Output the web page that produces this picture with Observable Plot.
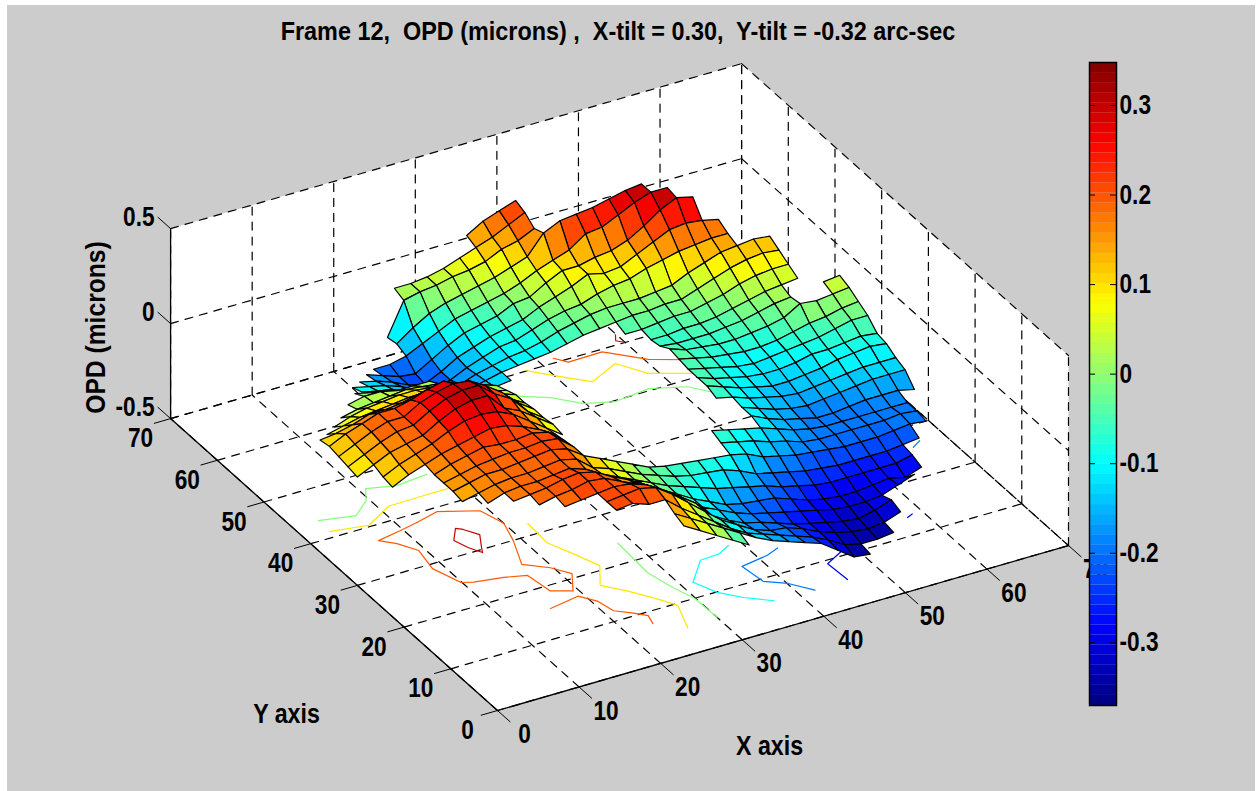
<!DOCTYPE html>
<html><head><meta charset="utf-8">
<script src="https://cdn.jsdelivr.net/npm/d3@7"></script>
<script src="https://cdn.jsdelivr.net/npm/@observablehq/plot@0.6"></script>
<style>
html,body{margin:0;padding:0;background:#fff;width:1258px;height:791px;overflow:hidden}
#bg{position:absolute;left:7px;top:5px;width:1248px;height:786px;background:#cccccc}
#main,#bar{position:absolute;left:0;top:0}
svg{background:none!important;white-space:pre}
</style></head><body>
<div id="bg"></div><div id="main"></div><div id="bar"></div>
<script>
const titleText = "Frame 12,  OPD (microns) ,  X-tilt = 0.30,  Y-tilt = -0.32 arc-sec";
const xLabel = "X axis", yLabel = "Y axis", zLabel = "OPD (microns)";
const xyTicks = [0,10,20,30,40,50,60,70];
const zTicks = [-0.5,0,0.5];
const barTicks = [0.3,0.2,0.1,0,-0.1,-0.2,-0.3];
const barDomain = [-0.37,0.348];
const _ = null, gap = n => Array(n).fill(null);

// surface heights in hundredths of a micron, one list per Y row; first X given by rowStart, step 2
const rowY =     [66,64,62,60,58,56,54,52,50,48,46,44,42,40,38,36,34,32,30,28,26,24,22,20,18,16,14,12,10,8,6,4,2];
const rowStart = [34,24,22,22,18,16,14,12,12,10, 8, 6, 4, 2, 0, 0, 0, 0, 0, 2, 2, 6, 6, 6, 6, 8,10,12,14,18,18,24,24];
const rowValues = [
[13,18,21,24],
[2,2,3,5,8,11,14,18,22],
[-17,0,2,3,5,6,8,12,14,18],
[-16,-10,-5,-2,0,2,4,7,10,20,24,25,26,28,30,31],
[-20,-20,-18,-14,-10,-6,-4,-2,0,3,7,10,13,19,20,24,28,31,31],
[-16,-19,-22,-23,-18,-13,-9,-7,-5,-1,0,5,9,9,11,12,15,20,26,30,28],
[-13,-15,-18,-22,-24,-20,-15,-12,-9,-7,-5,-1,2,5,9,7,8,12,16,20,21,20,18],
[-9,-11,-13,-16,-21,-23,-20,-16,-13,-10,-9,-6,-3,-1,0,3,5,6,9,11,13,14,15,15],
[-7,-9,-11,-14,-18,-20,-18,-15,-13,-11,-10,-8,-5,-3,-1,0,0,0,1,2,6,9,12,13,14,13],
[-1,-3,-4,-7,-10,-15,-17,-16,-14,-12,-11,-10,-9,-7,-5,-4,-3,-2,-2,-1,-1,2,5,8,10,11,10],
[0,2,2,0,0,0,-8,-12,-13,-13,-12,...gap(6),-5,-5,-4,-3,-3,-1,1,4,6,7,7],
[0,2,3,4,5,4,3,1,-3,-6,...gap(9),-6,-6,-5,-5,-4,-2,0,2,3,4],
[2,5,7,8,9,9,8,6,4,2,-1,...gap(9),-5,-6,-6,-6,-5,-4,-2,0,1,_,4,5],
[5,7,9,10,11,12,12,11,8,5,3,1,...gap(9),-2,-5,-6,-7,-7,-6,-5,-3,2,1,2,3],
[9,10,12,15,15,16,18,18,15,12,9,6,3,...gap(9),-3,-5,-7,-8,-9,-9,-8,-6,-4,-3,-1,0],
[10,14,17,20,20,22,25,27,23,17,14,8,3,...gap(9),-4,-6,-8,-10,-11,-10,-9,-8,-7,-5,-3,-3],
[9,13,17,20,20,25,28,30,29,24,18,10,4,...gap(9),-4,-7,-9,-11,-12,-12,-11,-9,-9,-8,-7,-8],
[8,12,16,19,20,25,29,31,31,24,19,10,4,...gap(9),-4,-7,-10,-12,-14,-14,-13,-12,-10,-9,-8,-9],
[7,11,15,17,19,24,28,30,30,21,17,11,5,...gap(9),-6,-8,-11,-13,-15,-16,-15,-14,-13,-12,-12,-12],
[9,13,16,19,23,26,27,26,22,16,10,4,...gap(10),-9,-12,-15,-17,-18,-17,-16,-15,-14,-14,-14],
[8,12,15,18,20,22,24,23,20,16,11,...gap(11),-9,-13,-16,-18,-20,-20,-19,-18,-18,-18,-20],
[14,17,19,21,20,20,21,19,12,...gap(8),-5,-7,-9,-11,-14,-17,-19,-20,-20,-20,-20,-20,-20],
[14,16,18,19,20,20,21,20,13,...gap(8),-7,-9,-11,-14,-16,-19,-20,-20,-20,-20,-20,-19,-20],
[14,16,18,18,19,20,21,19,13,9,5,1,-3,-5,-6,-7,-8,-9,-11,-15,-17,-19,-20,-21,-22,-22,-22,-21,-20,-21],
[13,15,17,18,18,19,20,18,11,8,4,0,-3,-6,-8,-9,-10,-13,-17,-19,-21,-23,-24,-25,-25,-25,-25,-24,-23],
[14,17,18,18,19,20,17,12,8,4,0,-4,-7,-10,-13,-15,-17,-19,-22,-24,-26,-27,-27,-27,-27,-27,-25],
[17,18,19,21,22,20,15,11,6,1,-4,-9,-13,-17,-19,-20,-21,-24,-27,-29,-30,-30,-29,-28,-30,-27],
[17,19,20,22,21,17,13,9,3,-3,-9,-13,-17,-20,-22,-24,-26,-28,-30,-31,-31,-30,-27,-24],
[18,19,20,21,20,17,12,6,0,-9,-14,-18,-20,-23,-26,-28,-30,-32,-33,-31,-28],
[20,21,22,20,14,7,0,-7,-12,-17,-20,-21,-24,-28,-31,-33,-34,-33,-30],
[20,21,18,18,11,5,-1,-7,-12,-15,-18,-21,-24,-28,-33,-35,-35,-34],
[15,10,5,0,-5,-10,-14,-17,-20,-23,-29,-35,-36],
[13,8,3,-2,-7]
];

// floor contours: level and [X,Y] vertices
const contourLevels = [0.3,0.2,0.2,0.1,0.1,0,0,-0.1,-0.2,-0.3,-0.3,-0.2,-0.2,-0.1,0.3,0.3,0.2,0.1,0];
const contourPaths = [
[[15,35.2],[15.6,34.6],[16.6,32.8],[15.4,30.3],[15,29.4],[14.2,31],[13.6,33.1],[15,35.2]],
[[6.6,37],[9.7,37.7],[12.1,38.3],[15,39.2],[19.1,37.1],[20,33.6],[19.1,30],[17.4,25.2],[19.7,23.1],[21.1,20.9],[19.4,17.7],[17.3,18.9],[16.8,22.9],[14.4,23.8],[11.1,24.5],[9.9,25.1],[8.7,29.1],[9.3,33.1],[8,35.5],[6.6,37]],
[[15.5,15.7],[19.3,16.5],[20.6,14.6],[21.1,12],[22.7,10.5],[23.8,9.3],[23.4,7.6]],
[[3,41.2],[7.3,40.3],[11.1,42.7],[15.9,42.8],[18.4,42.8]],
[[22.2,32.3],[22,27.8],[23.3,24.4],[24.5,20.9],[22.5,17.3],[24.4,14.9],[26.1,12.3],[27.6,9.6],[26.2,5]],
[[3.1,43.8],[7.1,42.7],[9.6,44.9],[10.8,47.1],[14,46],[18,46.5]],
[[28.5,24],[28.2,17.1],[29,13.1],[29.9,9.9],[30,5.4]],
[[38.5,17.8],[36.8,16.8],[34.4,16.6],[31.4,13],[32.6,9.9],[34.5,7.6],[37,5.4]],
[[42.8,14.8],[41.1,14],[37.6,13.3],[38,9.5],[40.1,7.8],[41.9,5.2]],
[[49.3,11.4],[45.8,9.3],[46,5.4]],
[[58,13.5],[58.8,13.9]],
[[62,22.5],[61.1,20.1]],
[[65.8,25.9],[67.1,26.8]],
[[66.7,31.8],[67.2,31.7]],
[[49.9,61.9],[49.3,60.8],[49.9,60.1]],
[[53.5,57],[53.8,56.4]],
[[41.7,60.9],[42.7,59.4],[46.9,59.5],[50.4,55.7],[53.8,53.7]],
[[37.9,60.1],[41,56.6],[42.9,54.6],[46.9,56.7],[48.9,53.2],[53.5,50.6]],
[[33.9,58],[34.7,55.7],[37.4,53.9],[39.8,51.1],[42.9,49.8],[47.4,50.4],[51.2,48.7],[53.4,45.8]]
];

// MATLAB jet(64) over the colour bar
const jet = t => {const c=v=>Math.round(255*Math.max(0,Math.min(1,v)));
  return `rgb(${c(1.5-Math.abs(4*t-3))},${c(1.5-Math.abs(4*t-2))},${c(1.5-Math.abs(4*t-1))})`;};
const levels = d3.range(64);
const thresholds = levels.slice(1).map(i => barDomain[0]+(barDomain[1]-barDomain[0])*i/64);
const colorScale = {type:"threshold",domain:thresholds,range:levels.map(i=>jet((i+0.5)/64))};

// view: oblique projection of (X,Y,Z) to chart units
const U = (X,Y) => 8.157*X - 4.67*Y;
const V = (X,Y,Z) => 2.357*X + 4.17*Y + 190*(Z+0.5);
const P = (X,Y,Z,id,extra) => ({u:U(X,Y),v:V(X,Y,Z),id,...extra});

// nodes
const H = new Map();
rowY.forEach((y,r)=>rowValues[r].forEach((v,i)=>{ if(v!==null) H.set(`${rowStart[r]+2*i},${y}`,v/100); }));
const quads=[];
for(let X=0;X<=66;X+=2) for(let Y=0;Y<=66;Y+=2){
  const c=[[X,Y],[X+2,Y],[X+2,Y+2],[X,Y+2]];
  const z=c.map(([a,b])=>H.get(`${a},${b}`));
  if(z.every(v=>v!==undefined)) quads.push({X,Y,c,z,mean:d3.mean(z),d:2.357*(X+1)+4.17*(Y+1)});
}
quads.sort((a,b)=>d3.descending(a.d,b.d));
const surface=[];
quads.forEach((q,k)=>q.c.forEach(([a,b],j)=>surface.push(P(a,b,q.z[j],k,{level:q.mean}))));

// box
const L=70, zMin=-0.5, zMax=0.5;
const wallPts=[[0,0,zMin],[L,0,zMin],[L,0,zMax],[L,L,zMax],[0,L,zMax],[0,L,zMin]].map(([a,b,c])=>P(a,b,c,"w"));
const dashed=[], solid=[], ticks=[];
let id=0;
const seg=(arr,p,q)=>{id++;arr.push(P(...p,id),P(...q,id));};
xyTicks.forEach(k=>{
  seg(dashed,[k,0,zMin],[k,L,zMin]); seg(dashed,[0,k,zMin],[L,k,zMin]);
  seg(dashed,[k,L,zMin],[k,L,zMax]); seg(dashed,[L,k,zMin],[L,k,zMax]);
  seg(ticks,[k,0,zMin],[k,-2.7,zMin]); seg(ticks,[0,k,zMin],[-2,k,zMin]);
});
zTicks.forEach(z=>{
  seg(dashed,[0,L,z],[L,L,z]); seg(dashed,[L,L,z],[L,0,z]);
  seg(ticks,[0,L,z],[0,L+2.7,z]);
});
seg(solid,[0,0,zMin],[L,0,zMin]); seg(solid,[0,0,zMin],[0,L,zMin]); seg(solid,[0,L,zMin],[0,L,zMax]);

const contourPts=[];
contourPaths.forEach((p,i)=>p.forEach(([a,b])=>contourPts.push(P(a,b,zMin,i,{level:contourLevels[i]}))));

const font="'Liberation Sans',sans-serif";
const txt={fontFamily:font,fontWeight:"bold",fill:"#000"};
const xTickRows=xyTicks.map(k=>P(k,0,zMin,k,{label:String(k)}));
const yTickRows=xyTicks.map(k=>P(0,k,zMin,k,{label:String(k)}));
const zTickRows=zTicks.map(k=>P(0,L,k,k,{label:String(k)}));
const pos={x:"u",y:"v"};

const main=Plot.plot({
  width:1258,height:791,margin:0,
  x:{domain:[-497,761],range:[0,1258],axis:null},
  y:{domain:[-81,710],range:[791,0],axis:null},
  color:colorScale,
  marks:[
    Plot.line(wallPts,{...pos,z:"id",fill:"#fff",stroke:"none",curve:"linear-closed"}),
    Plot.line(dashed,{...pos,z:"id",stroke:"#000",strokeWidth:1.2,strokeDasharray:"8,7"}),
    Plot.line(solid,{...pos,z:"id",stroke:"#000",strokeWidth:1.3}),
    Plot.line(ticks,{...pos,z:"id",stroke:"#000",strokeWidth:1}),
    Plot.line(contourPts,{...pos,z:"id",stroke:"level",strokeWidth:1.2}),
    Plot.line(surface,{...pos,z:"id",fill:"level",stroke:"#000",strokeWidth:1.2,curve:"linear-closed"}),
    Plot.text(xTickRows,{...pos,text:"label",dx:27,dy:24,fontSize:27,...txt}),
    Plot.text(yTickRows,{...pos,text:"label",dx:-30,dy:20,fontSize:27,...txt}),
    Plot.text(zTickRows,{...pos,text:"label",dx:-16,dy:-11,textAnchor:"end",fontSize:27,...txt}),
    Plot.text([titleText],{x:()=>120.5,y:()=>679,text:d=>d,fontSize:26,...txt}),
    Plot.text([xLabel],{x:()=>272,y:()=>-36,text:d=>d,fontSize:27,...txt}),
    Plot.text([yLabel],{x:()=>-211,y:()=>-4,text:d=>d,fontSize:27,...txt}),
    Plot.text([zLabel],{x:()=>-401,y:()=>383,text:d=>d,rotate:-90,fontSize:28,...txt})
  ]
});
document.getElementById("main").append(main);

const cells=levels.map(i=>({
  y1:barDomain[0]+(barDomain[1]-barDomain[0])*i/64,
  y2:barDomain[0]+(barDomain[1]-barDomain[0])*(i+1)/64,
  level:barDomain[0]+(barDomain[1]-barDomain[0])*(i+0.5)/64}));
const bar=Plot.plot({
  width:1258,height:791,marginLeft:1089,marginRight:142,marginTop:62,marginBottom:86,
  x:{domain:[0,1],axis:null},
  y:{domain:barDomain,axis:null},
  color:colorScale,
  marks:[
    Plot.rect(cells,{x1:0,x2:1,y1:"y1",y2:"y2",fill:"level"}),
    Plot.tickY(barTicks,{y:d=>d,stroke:"#000",insetRight:21}),
    Plot.tickY(barTicks,{y:d=>d,stroke:"#000",insetLeft:21}),
    Plot.frame({stroke:"#000",strokeWidth:1.5}),
    Plot.text(barTicks,{x:()=>1,y:d=>d,text:d=>String(d),dx:3,textAnchor:"start",fontSize:27,...txt})
  ]
});
document.getElementById("bar").append(bar);

// the reference face is condensed: narrow each label horizontally
const narrowing = t => t===titleText ? 0.9 : t===zLabel ? 0.88 : (t===xLabel||t===yLabel) ? 0.86 : 0.84;
document.querySelectorAll("svg text").forEach(el=>{
  const w=el.getComputedTextLength();
  el.setAttribute("lengthAdjust","spacingAndGlyphs");
  el.setAttribute("textLength",(w*narrowing(el.textContent)).toFixed(1));
});
</script></body></html>
